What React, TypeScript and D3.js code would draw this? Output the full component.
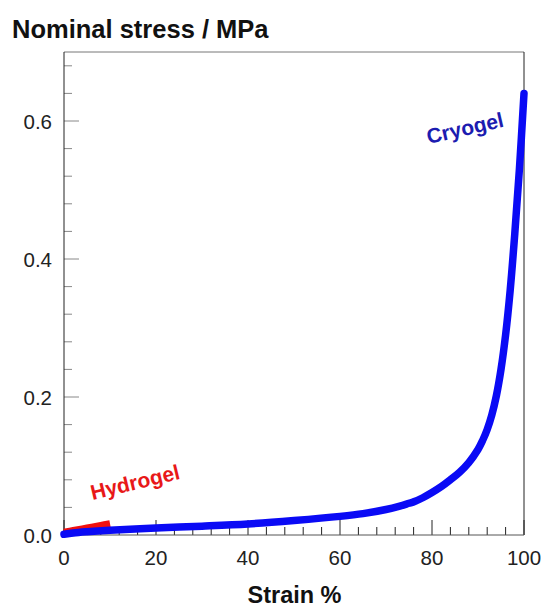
import * as d3 from 'd3'

// stress-strain curves
const cryoStrain = [0, 2, 5, 10, 20, 30, 40, 50, 60, 65, 70, 73, 75, 76, 78, 80, 82, 84, 86, 88, 90, 91, 92, 93, 94, 95, 96, 97, 98, 99, 100]
const cryoStress = [0.001, 0.003, 0.0048, 0.007, 0.0102, 0.0128, 0.016, 0.021, 0.027, 0.031, 0.037, 0.042, 0.046, 0.048, 0.054, 0.0615, 0.07, 0.08, 0.091, 0.105, 0.124, 0.137, 0.153, 0.174, 0.202, 0.24, 0.29, 0.355, 0.437, 0.53, 0.64]

const hydroStrain = [0, 2, 5, 8, 10]
const hydroStress = [0.004, 0.0065, 0.0102, 0.014, 0.0165]

const xMajor = [0, 20, 40, 60, 80, 100]
const yMajor = [0, 0.2, 0.4, 0.6]

const W = 543
const H = 607
const font = "'Liberation Sans', Arial, sans-serif"

export default function App() {
  const left = 64
  const right = 524
  const top = 52
  const bottom = 535

  const x = d3.scaleLinear().domain([0, 100]).range([left, right])
  const y = d3.scaleLinear().domain([0, 0.7]).range([bottom, top])

  const line = d3
    .line<[number, number]>()
    .x(d => x(d[0]))
    .y(d => y(d[1]))
    .curve(d3.curveCatmullRom.alpha(0.5))

  const cryo = line(cryoStrain.map((s, i) => [s, cryoStress[i]]) as [number, number][]) || ''
  const hydro = line(hydroStrain.map((s, i) => [s, hydroStress[i]]) as [number, number][]) || ''

  const xMinor = d3.range(4, 100, 4).filter(v => v % 20 !== 0)
  const yMinor = d3.range(1, 18).map(i => i * 0.04).filter(v => Math.abs(v / 0.2 - Math.round(v / 0.2)) > 1e-6)

  return (
    <svg width={W} height={H} style={{ position: 'absolute', left: 0, top: 0, background: '#fff' }}>
      {/* frame */}
      <line x1={left} x2={right} y1={top} y2={top} stroke="#777" />
      <line x1={right} x2={right} y1={top} y2={bottom} stroke="#222" />

      {/* y ticks */}
      {yMajor.map(v => (
        <g key={'ym' + v}>
          <line x1={left} x2={left + 15} y1={y(v)} y2={y(v)} stroke="#888" />
          <text x={52} y={y(v) + 7.5} textAnchor="end" fontFamily={font} fontSize={20.5} fill="#222">
            {v.toFixed(1)}
          </text>
        </g>
      ))}
      {yMinor.map(v => (
        <line key={'yn' + v} x1={left} x2={left + 8} y1={y(v)} y2={y(v)} stroke="#888" />
      ))}

      {/* x ticks */}
      {xMajor.map(v => (
        <g key={'xm' + v}>
          <line x1={x(v)} x2={x(v)} y1={bottom} y2={bottom - 15} stroke="#222" />
          <text x={x(v)} y={565} textAnchor="middle" fontFamily={font} fontSize={20.5} fill="#222">
            {v}
          </text>
        </g>
      ))}
      {xMinor.map(v => (
        <line key={'xn' + v} x1={x(v)} x2={x(v)} y1={bottom} y2={bottom - 8} stroke="#222" />
      ))}

      {/* axes */}
      <line x1={left} x2={right} y1={bottom} y2={bottom} stroke="#555" />
      <line x1={left} x2={left} y1={top} y2={bottom} stroke="#222" />

      {/* curves */}
      <path d={hydro} fill="none" stroke="#f01010" strokeWidth={7} strokeLinecap="butt" />
      <path d={cryo} fill="none" stroke="#0a0af5" strokeWidth={7.5} strokeLinecap="round" strokeLinejoin="round" />

      {/* labels */}
      <text
        transform="translate(465,128) rotate(-13)"
        textAnchor="middle"
        dominantBaseline="central"
        fontFamily={font}
        fontWeight="bold"
        fontSize={21}
        fill="#1c1cb0"
      >
        Cryogel
      </text>
      <text
        transform="translate(135,482) rotate(-13.5)"
        textAnchor="middle"
        dominantBaseline="central"
        fontFamily={font}
        fontWeight="bold"
        fontSize={21}
        fill="#e81818"
      >
        Hydrogel
      </text>

      {/* titles */}
      <text x={12} y={37.5} fontFamily={font} fontWeight="bold" fontSize={25.5} fill="#111">
        Nominal stress / MPa
      </text>
      <text x={294.5} y={603} textAnchor="middle" fontFamily={font} fontWeight="bold" fontSize={23.5} fill="#111">
        Strain %
      </text>
    </svg>
  )
}
